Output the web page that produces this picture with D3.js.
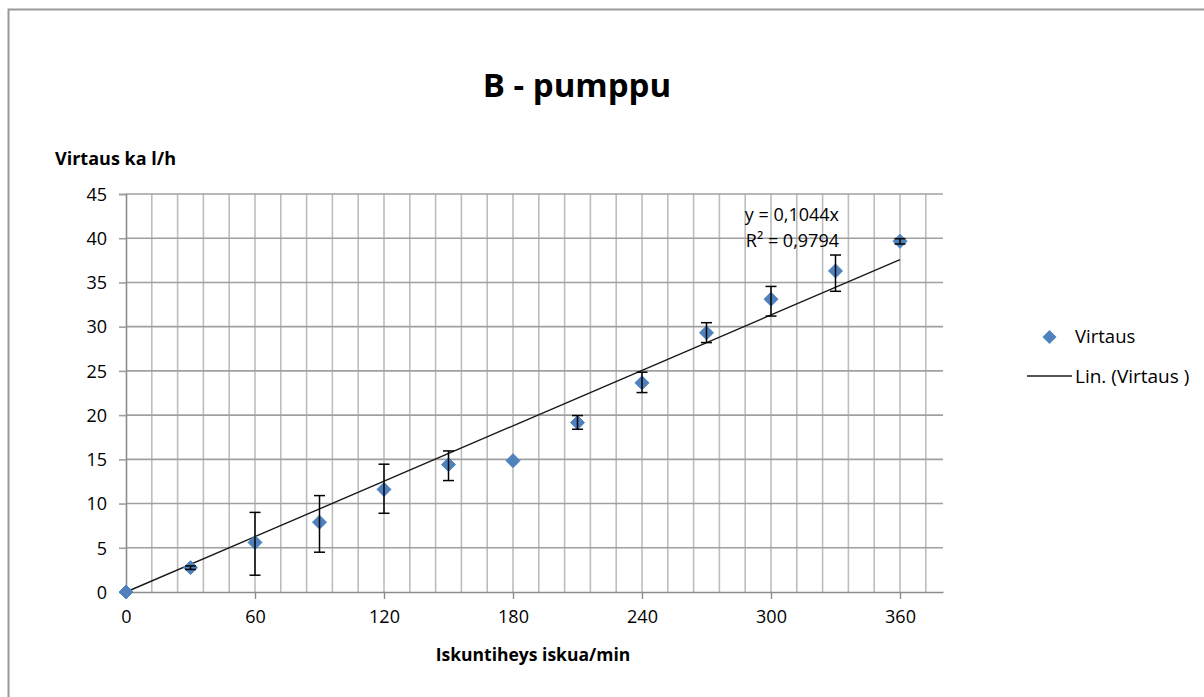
<!DOCTYPE html>
<html>
<head>
<meta charset="utf-8">
<script src="https://cdn.jsdelivr.net/npm/d3@7"></script>
<style>
  html, body { margin: 0; padding: 0; background: #fff; }
  svg { display: block; font-family: "Open Sans", "Liberation Sans", sans-serif; }
</style>
</head>
<body>
<svg id="chart" width="1204" height="697"></svg>
<script>
// ---- data ----
const xValues   = [0, 30, 60, 90, 120, 150, 180, 210, 240, 270, 300, 330, 360];
const yValues   = [0, 2.75, 5.6, 7.9, 11.6, 14.4, 14.85, 19.15, 23.65, 29.3, 33.1, 36.3, 39.65];
const errPlus   = [0, 0.2, 3.4, 3.0, 2.85, 1.55, 0, 0.8, 1.2, 1.15, 1.45, 1.8, 0.3];
const errMinus  = [0, 0.2, 3.7, 3.4, 2.7, 1.8, 0, 0.75, 1.1, 1.1, 1.9, 2.3, 0.3];
const xTicks    = [0, 60, 120, 180, 240, 300, 360];
const yTicks    = [0, 5, 10, 15, 20, 25, 30, 35, 40, 45];
const trendSlope = 0.1044;
const trendRange = [0, 360];
const titleText = "B - pumppu";
const yTitle = "Virtaus ka l/h";
const xTitle = "Iskuntiheys iskua/min";
const seriesName = "Virtaus";
const trendName = "Lin. (Virtaus )";
const eqLines = ["y = 0,1044x", "R² = 0,9794"];

(function () {
// ---- layout ----
const svg = d3.select("#chart");
const pLeft = 126, pRight = 943, pTop = 194, pBottom = 592;
const x = d3.scaleLinear().domain([0, 380]).range([pLeft, pRight]);
const y = d3.scaleLinear().domain([0, 45]).range([pBottom, pTop]);
const gridColor = "#bdbdbd";
const axisColor = "#8c8c8c";
const blue = "#4F81BD";

// chart border
svg.append("path")
  .attr("d", "M8.5,697 L8.5,9.5 L1204,9.5")
  .attr("fill", "none").attr("stroke", "#9a9a9a").attr("stroke-width", 2);

// vertical minor gridlines every 12
const vGrid = d3.range(12, 380, 12);
svg.append("g").selectAll("line").data(vGrid).join("line")
  .attr("x1", d => x(d)).attr("x2", d => x(d))
  .attr("y1", pTop).attr("y2", pBottom)
  .attr("stroke", gridColor).attr("stroke-width", 1.6);

// horizontal gridlines
svg.append("g").selectAll("line").data(yTicks.filter(d => d > 0)).join("line")
  .attr("x1", pLeft).attr("x2", pRight)
  .attr("y1", d => y(d)).attr("y2", d => y(d))
  .attr("stroke", "#a0a0a0").attr("stroke-width", 1.6);

// y axis
const yAxis = d3.axisLeft(y).tickValues(yTicks).tickSize(7).tickFormat(d3.format("d"));
const gy = svg.append("g").attr("transform", `translate(${pLeft},0)`).call(yAxis);
gy.select(".domain").attr("stroke", axisColor).attr("stroke-width", 1.6);
gy.selectAll(".tick line").attr("stroke", "#a0a0a0").attr("stroke-width", 1.6);
gy.selectAll(".tick text").attr("font-size", 18).attr("fill", "#000")
  .attr("font-family", "Open Sans").attr("x", -19).attr("dy", "0.35em");

// x axis
const xAxis = d3.axisBottom(x).tickValues(xTicks).tickSize(7).tickSizeOuter(0).tickFormat(d3.format("d"));
const gx = svg.append("g").attr("transform", `translate(0,${pBottom})`).call(xAxis);
gx.select(".domain").attr("stroke", axisColor).attr("stroke-width", 1.6);
gx.selectAll(".tick line").attr("stroke", axisColor).attr("stroke-width", 1.4);
gx.selectAll(".tick text").attr("font-size", 18).attr("fill", "#000")
  .attr("font-family", "Open Sans").attr("y", 18).attr("dy", "0.71em");

// trendline
svg.append("line")
  .attr("x1", x(trendRange[0])).attr("y1", y(trendSlope * trendRange[0]))
  .attr("x2", x(trendRange[1])).attr("y2", y(trendSlope * trendRange[1]))
  .attr("stroke", "#1a1a1a").attr("stroke-width", 1.4);

// points data
const pts = xValues.map((v, i) => ({ x: v, y: yValues[i], ep: errPlus[i], em: errMinus[i] }));

// markers
const diamond = (cx, cy, r) => `M${cx},${cy - r}L${cx + r},${cy}L${cx},${cy + r}L${cx - r},${cy}Z`;
svg.append("g").selectAll("path").data(pts).join("path")
  .attr("d", d => diamond(x(d.x), y(d.y), 7))
  .attr("fill", blue).attr("stroke", blue).attr("stroke-width", 1).attr("stroke-linejoin", "round");

// error bars
const eb = svg.append("g").attr("stroke", "#000").attr("stroke-width", 1.5);
pts.filter(d => d.ep > 0 || d.em > 0).forEach(d => {
  const cx = x(d.x), y1 = y(d.y + d.ep), y2 = y(d.y - d.em);
  eb.append("line").attr("x1", cx).attr("x2", cx).attr("y1", y1).attr("y2", y2);
  eb.append("line").attr("x1", cx - 5.5).attr("x2", cx + 5.5).attr("y1", y1).attr("y2", y1);
  eb.append("line").attr("x1", cx - 5.5).attr("x2", cx + 5.5).attr("y1", y2).attr("y2", y2);
});

// equation
svg.append("g").selectAll("text").data(eqLines).join("text")
  .attr("x", 839).attr("y", (d, i) => 221 + i * 26)
  .attr("text-anchor", "end").attr("font-size", 18).attr("fill", "#000")
  .text(d => d);

// title
svg.append("text").attr("x", 577).attr("y", 97).attr("text-anchor", "middle")
  .attr("font-size", 33).attr("font-weight", "bold").attr("fill", "#000").text(titleText);

// axis titles
svg.append("text").attr("x", 55).attr("y", 165).attr("font-size", 18)
  .attr("font-weight", "bold").attr("fill", "#000").text(yTitle);
svg.append("text").attr("x", 533).attr("y", 661).attr("text-anchor", "middle").attr("font-size", 17.5)
  .attr("font-weight", "bold").attr("fill", "#000").text(xTitle);

// legend
svg.append("path").attr("d", diamond(1049.5, 337, 7)).attr("fill", blue);
svg.append("text").attr("x", 1075).attr("y", 337).attr("dy", "0.35em")
  .attr("font-size", 18.5).attr("fill", "#000").text(seriesName);
svg.append("line").attr("x1", 1027).attr("x2", 1072).attr("y1", 376).attr("y2", 376)
  .attr("stroke", "#1a1a1a").attr("stroke-width", 1.4);
svg.append("text").attr("x", 1075).attr("y", 376).attr("dy", "0.35em")
  .attr("font-size", 19).attr("fill", "#000").text(trendName);
})();
</script>
</body>
</html>
